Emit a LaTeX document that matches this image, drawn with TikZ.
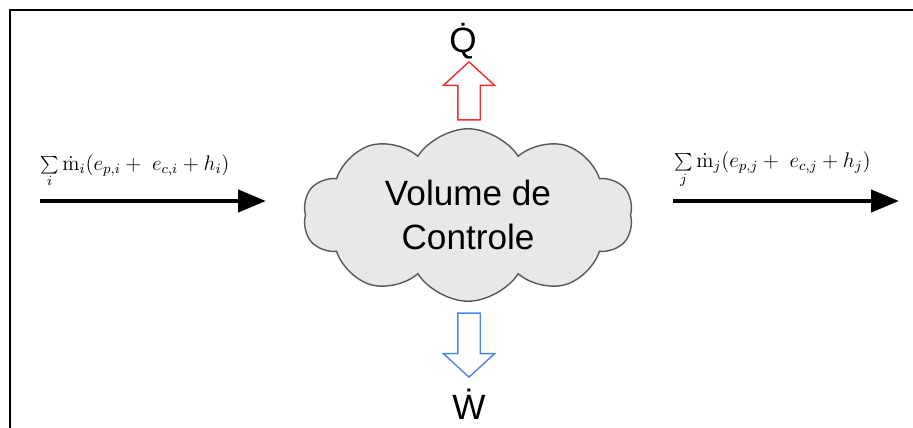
\documentclass[tikz,border=0pt]{standalone}
\usepackage[no-math]{fontspec}
\setmainfont{Liberation Sans}
\usetikzlibrary{shapes.symbols,shapes.arrows,arrows.meta}
\definecolor{heatred}{HTML}{F03030}
\definecolor{workblue}{HTML}{4A86E8}

\tikzstyle{volume}=[cloud, cloud puffs=10, cloud puff arc=115, aspect=1.9,
  draw=black!65, fill=black!9, line width=0.8pt, minimum width=6.6cm,
  minimum height=3.45cm, align=center, font=\fontsize{20}{25}\selectfont]
\tikzstyle{flow}=[line width=2.5pt, -{Triangle[length=5.6mm, width=4.4mm]}]
\tikzstyle{energy}=[single arrow, draw, fill=white, line width=0.8pt,
  single arrow head extend=0.29cm, single arrow tip angle=95,
  inner sep=0.21cm]
\tikzstyle{rate}=[font=\fontsize{20}{24}\selectfont, inner sep=0pt]

\begin{document}
\begin{tikzpicture}[x=0.02cm, y=-0.02cm]
\useasboundingbox (0,0) rectangle (913,428);
\draw[line width=1.3pt] (10,440) -- (10,10) -- (930,10);
%
\draw(468,215) node[volume](vc){Volume de\\Controle};
%
\draw(469,96) node[energy, draw=heatred, rotate=90, minimum height=1.16cm](heat){};
\draw(463,41) node[rate](Qdot){\.{Q}};
%
\draw(469,340) node[energy, draw=workblue, rotate=-90,
  minimum height=1.28cm](work){};
\draw(469,404) node[rate](Wdot){\.{W}};
%
\coordinate (in-start) at (40,201);
\coordinate (in-end) at (266,201);
\draw[flow] (in-start) -- node[above=3pt, pos=0.42, font=\large]
  {$\sum\limits_i \dot{\mathrm{m}}_i(e_{p,i}+\ e_{c,i}+h_i)$} (in-end);
%
\coordinate (out-start) at (673,201);
\coordinate (out-end) at (899,201);
\draw[flow] (out-start) -- node[above=3pt, pos=0.44, font=\large]
  {$\sum\limits_j \dot{\mathrm{m}}_j(e_{p,j}+\ e_{c,j}+h_j)$} (out-end);
\end{tikzpicture}
\end{document}
